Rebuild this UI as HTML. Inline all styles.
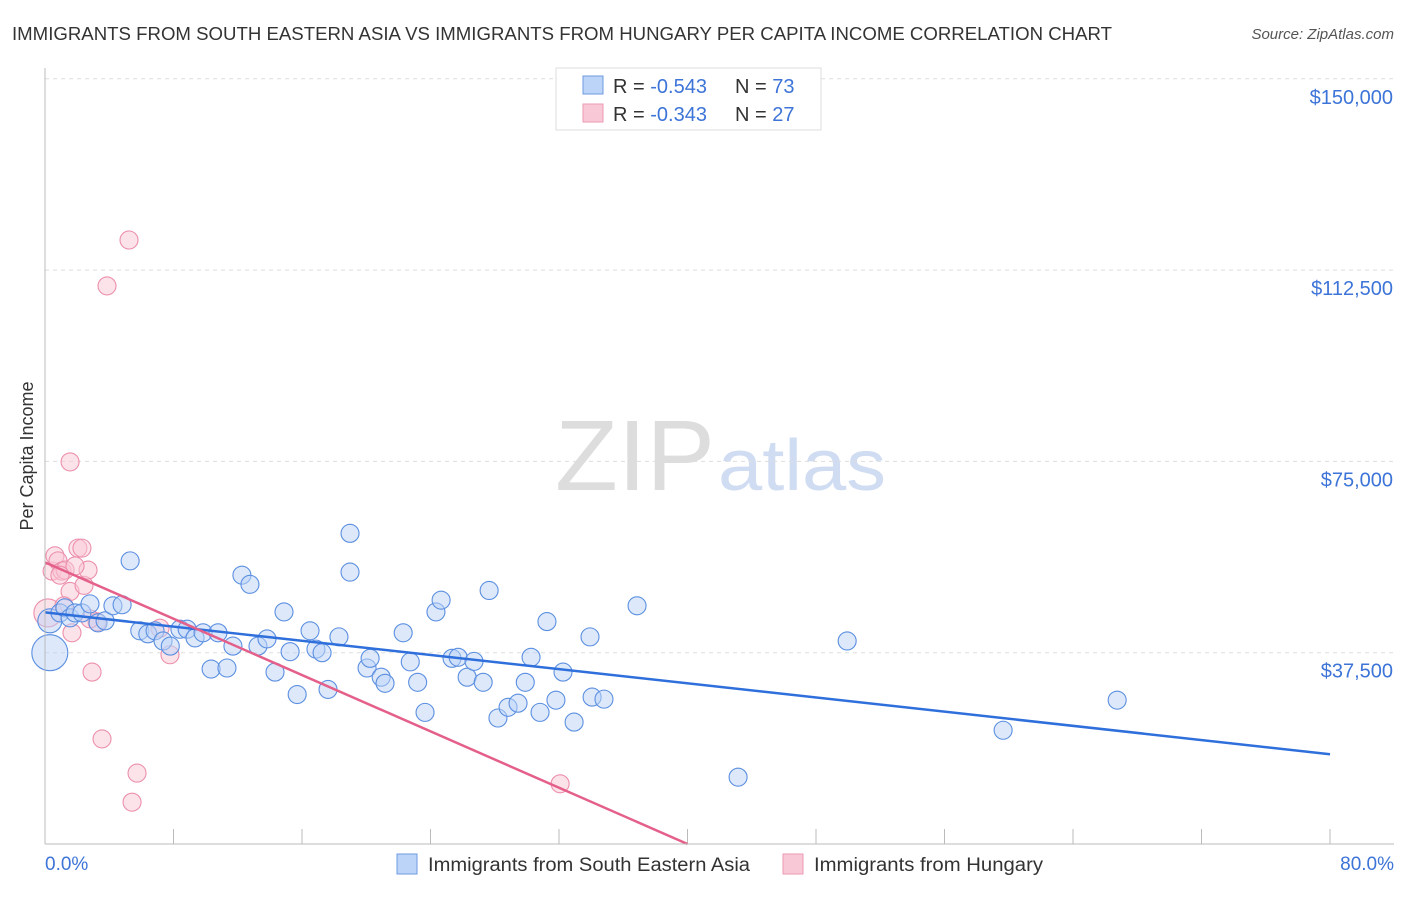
<!DOCTYPE html>
<html><head><meta charset="utf-8"><style>
body{margin:0;background:#fff;font-family:"Liberation Sans",sans-serif}
svg text{font-family:"Liberation Sans",sans-serif}
</style></head><body>
<svg id="c" width="1406" height="892" xmlns="http://www.w3.org/2000/svg">
<text x="12" y="40" font-size="18" fill="#333" textLength="1100" lengthAdjust="spacingAndGlyphs">IMMIGRANTS FROM SOUTH EASTERN ASIA VS IMMIGRANTS FROM HUNGARY PER CAPITA INCOME CORRELATION CHART</text>
<text x="1394" y="39" font-size="15" fill="#555" font-style="italic" text-anchor="end">Source: ZipAtlas.com</text>
<text transform="translate(33,456) rotate(-90)" font-size="18" fill="#333" text-anchor="middle">Per Capita Income</text>
<text x="555" y="490" font-size="100" fill="#ddd" font-family="Liberation Serif" textLength="160" lengthAdjust="spacingAndGlyphs">ZIP</text>
<text x="718" y="490" font-size="72" fill="#cfdcf2" textLength="168" lengthAdjust="spacingAndGlyphs">atlas</text>
<g id="grid"></g><g id="pts"></g><g id="lines"></g>
<line x1="45" y1="844" x2="1394" y2="844" stroke="#bbb"/>
<line x1="45" y1="68" x2="45" y2="844" stroke="#bbb"/>
<text x="45" y="870" font-size="19" fill="#3d74d8">0.0%</text>
<text x="1394" y="870" font-size="19" fill="#3d74d8" text-anchor="end">80.0%</text>
<g>
<rect x="556" y="68" width="265" height="62" fill="#fff" stroke="#ddd"/>
<rect x="583" y="76" width="20" height="18" fill="#bcd4f7" stroke="#6d9ae0"/>
<rect x="583" y="104" width="20" height="18" fill="#f9c8d6" stroke="#ec9ab2"/>
<text x="613" y="93" font-size="20" fill="#333">R = <tspan fill="#3d74d8">-0.543</tspan></text>
<text x="735" y="93" font-size="20" fill="#333">N = <tspan fill="#3d74d8">73</tspan></text>
<text x="613" y="121" font-size="20" fill="#333">R = <tspan fill="#3d74d8">-0.343</tspan></text>
<text x="735" y="121" font-size="20" fill="#333">N = <tspan fill="#3d74d8">27</tspan></text>
</g>
<g>
<rect x="397" y="854" width="20" height="20" fill="#bcd4f7" stroke="#6d9ae0"/>
<text x="428" y="871" font-size="19" fill="#333" textLength="322" lengthAdjust="spacingAndGlyphs">Immigrants from South Eastern Asia</text>
<rect x="783" y="854" width="20" height="20" fill="#f9c8d6" stroke="#ec9ab2"/>
<text x="814" y="871" font-size="19" fill="#333" textLength="229" lengthAdjust="spacingAndGlyphs">Immigrants from Hungary</text>
</g>
</svg>
<script>
const yTicks=[37500,75000,112500,150000];
const yTickLabels=["$37,500","$75,000","$112,500","$150,000"];
const blueX=[0.3,0.3,0.93,1.24,1.56,1.87,2.3,2.8,3.3,3.74,4.23,4.8,5.3,5.9,6.4,6.85,7.35,7.8,8.4,8.85,9.34,9.84,10.34,10.77,11.33,11.7,12.26,12.76,13.26,13.82,14.32,14.88,15.26,15.7,16.5,16.87,17.25,17.62,18.3,18.99,18.99,20.05,20.24,20.93,21.17,22.3,22.74,23.2,23.66,24.34,24.66,25.34,25.72,26.28,26.71,27.28,27.65,28.2,28.83,29.45,29.9,30.26,30.82,31.25,31.81,32.25,32.94,33.93,34.06,34.8,36.86,43.15,49.94,59.65,66.75];
const blueY=[37500,43750,45300,46300,44330,45300,45300,47070,43350,43750,46700,46900,55500,41800,41200,41800,39800,38800,42100,42100,40400,41400,34300,41400,34500,38800,52700,50900,38800,40200,33700,45500,37700,29300,41800,38200,37500,30300,40600,60900,53300,34500,36400,32700,31500,41400,35700,31700,25800,45500,47800,36400,36600,32700,35800,31700,49700,24700,26800,27600,31700,36600,25800,43600,28200,33700,23900,40600,28800,28400,46700,13100,39800,22300,28200];
const pinkX=[0.18,0.44,0.62,0.81,1.06,1.25,1.56,1.68,1.18,1.56,2.05,2.3,2.43,2.68,2.93,3.24,3.55,3.86,5.23,5.42,5.73,7.16,7.78,32.07,1.87,0.93,2.8];
const pinkY=[45300,53500,56500,55500,53500,53700,49500,41400,46700,74900,58000,58000,50700,53700,33700,43550,20600,109400,118400,8200,13900,42300,37100,11800,54500,52700,44130];
const blueLine=[[0,45400],[80,17600]];
const pinkLine=[[0,55200],[40,0]];
const X=v=>45+v/80*1285, Y=v=>844-v/150000*765.2;
const NS="http://www.w3.org/2000/svg";
function mk(t,a,p){const e=document.createElementNS(NS,t);for(const k in a)e.setAttribute(k,a[k]);p.appendChild(e);return e;}
const g=document.getElementById('grid');
yTicks.forEach((t,i)=>{
 const l=mk('line',{x1:45,x2:1394,y1:Y(t),y2:Y(t),stroke:'#ddd','stroke-dasharray':'4 4'},g);
 
 
 const tx=mk('text',{x:1393,y:Y(t)+25,'font-size':20,fill:'#3d74d8','text-anchor':'end'},g);
 tx.textContent=yTickLabels[i];
 
 
});
for(let i=1;i<=10;i++){
 const l=mk('line',{x1:X(i*8),x2:X(i*8),y1:829,y2:844,stroke:'#bbb'},g);
 
 
}
const p=document.getElementById('pts');
function dots(xs,ys,fill,stroke,name){
 xs.forEach((x,i)=>{
  const r=(i===0)?(name==='blue-point'?18:14):(name==='blue-point'&&i===1?12:9);
  const c=mk('circle',{cx:X(x),cy:Y(ys[i]),r:r,fill:fill,'fill-opacity':0.5,stroke:stroke,'stroke-width':1.1},p);
  
  
 });
}
dots(pinkX,pinkY,'#f9c8d6','#ec8fab','pink-point');
dots(blueX,blueY,'#bcd4f7','#5b8fe0','blue-point');
const L=document.getElementById('lines');
const b=mk('line',{x1:X(blueLine[0][0]),y1:Y(blueLine[0][1]),x2:X(blueLine[1][0]),y2:Y(blueLine[1][1]),stroke:'#2f6fdc','stroke-width':2.5},L);


const k=mk('line',{x1:X(pinkLine[0][0]),y1:Y(pinkLine[0][1]),x2:X(pinkLine[1][0]),y2:Y(pinkLine[1][1]),stroke:'#e4608a','stroke-width':2.5},L);


</script>
</body></html>
